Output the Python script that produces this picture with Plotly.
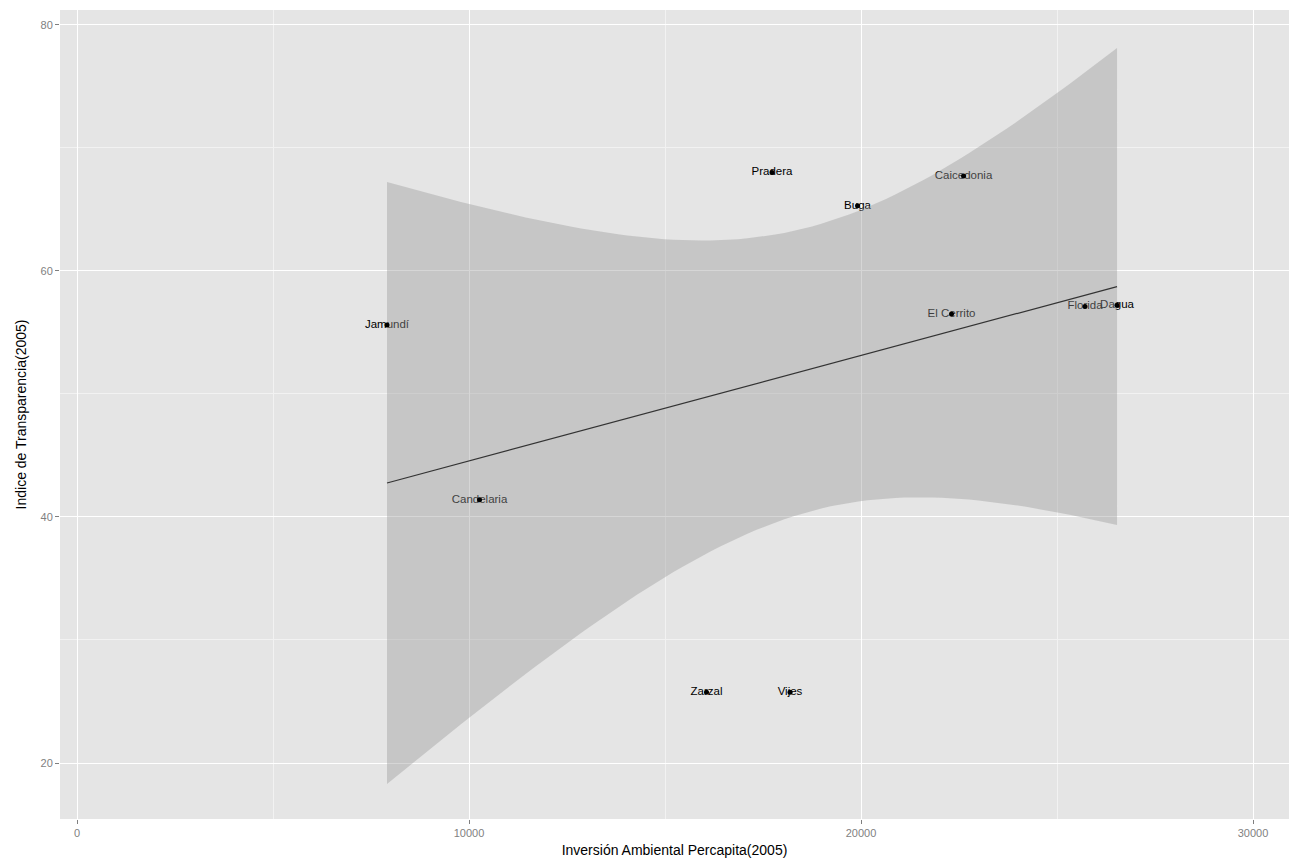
import numpy as np
import plotly.graph_objects as go

municipios = ["Jamundí", "Candelaria", "Pradera", "Buga", "Caicedonia",
              "El Cerrito", "Florida", "Dagua", "Zarzal", "Vijes"]
inversion = [7908, 10268, 17730, 19911, 22615, 22309, 25714, 26531, 16059, 18189]
transparencia = [55.6, 41.4, 68.0, 65.3, 67.7, 56.5, 57.1, 57.2, 25.75, 25.75]

x_ticks = [0, 10000, 20000, 30000]
y_ticks = [20, 40, 60, 80]

# linear fit with 95% confidence band (like geom_smooth(method="lm"))
x = np.array(inversion, dtype=float)
y = np.array(transparencia, dtype=float)
n = len(x)
b1, b0 = np.polyfit(x, y, 1)
resid = y - (b0 + b1 * x)
s = np.sqrt(np.sum(resid ** 2) / (n - 2))
t_crit = 2.306004  # t(0.975, df=8)
xs = np.linspace(x.min(), x.max(), 80)
ys = b0 + b1 * xs
se = s * np.sqrt(1.0 / n + (xs - x.mean()) ** 2 / np.sum((x - x.mean()) ** 2))
upper = ys + t_crit * se
lower = ys - t_crit * se

fig = go.Figure()

fig.add_trace(go.Scatter(
    x=inversion, y=transparencia, mode="text", text=municipios,
    textposition="middle center",
    textfont=dict(family="Liberation Sans, Arial", size=11.5, color="black"),
    showlegend=False, hoverinfo="skip"))

fig.add_trace(go.Scatter(
    x=np.concatenate([xs, xs[::-1]]), y=np.concatenate([upper, lower[::-1]]),
    fill="toself", fillcolor="rgba(153,153,153,0.4)", mode="lines",
    line=dict(width=0), showlegend=False, hoverinfo="skip"))

fig.add_trace(go.Scatter(
    x=xs, y=ys, mode="lines", line=dict(color="#333333", width=1.2),
    showlegend=False))

fig.add_trace(go.Scatter(
    x=inversion, y=transparencia, mode="markers",
    marker=dict(color="black", size=5), showlegend=False))

axis_common = dict(
    showgrid=True, gridcolor="white", gridwidth=1.2,
    zeroline=False, showline=False,
    ticks="outside", ticklen=4, tickcolor="#7F7F7F", tickwidth=1,
    tickfont=dict(family="Liberation Sans, Arial", size=11, color="#7F7F7F"),
    automargin=False,
)

fig.update_layout(
    width=1291, height=862,
    margin=dict(l=60, r=2, t=10, b=43),
    paper_bgcolor="white", plot_bgcolor="#E5E5E5",
    xaxis=dict(range=[-434, 30918], tickvals=x_ticks,
               ticktext=[str(v) for v in x_ticks],
               minor=dict(dtick=5000, tick0=0, showgrid=True,
                          gridcolor="#F2F2F2", gridwidth=0.8),
               title=dict(text="Inversión Ambiental Percapita(2005)",
                          font=dict(family="Liberation Sans, Arial", size=14, color="black"),
                          standoff=6),
               **axis_common),
    yaxis=dict(range=[15.45, 81.2], tickvals=y_ticks,
               ticktext=[str(v) for v in y_ticks],
               minor=dict(dtick=10, tick0=0, showgrid=True,
                          gridcolor="#F2F2F2", gridwidth=0.8),
               title=dict(text="Indice de Transparencia(2005)",
                          font=dict(family="Liberation Sans, Arial", size=14, color="black"),
                          standoff=10),
               **axis_common),
)

fig.write_html("out.html", config={"displayModeBar": False},
               post_script="document.body.style.margin='0';document.body.style.overflow='hidden';")
